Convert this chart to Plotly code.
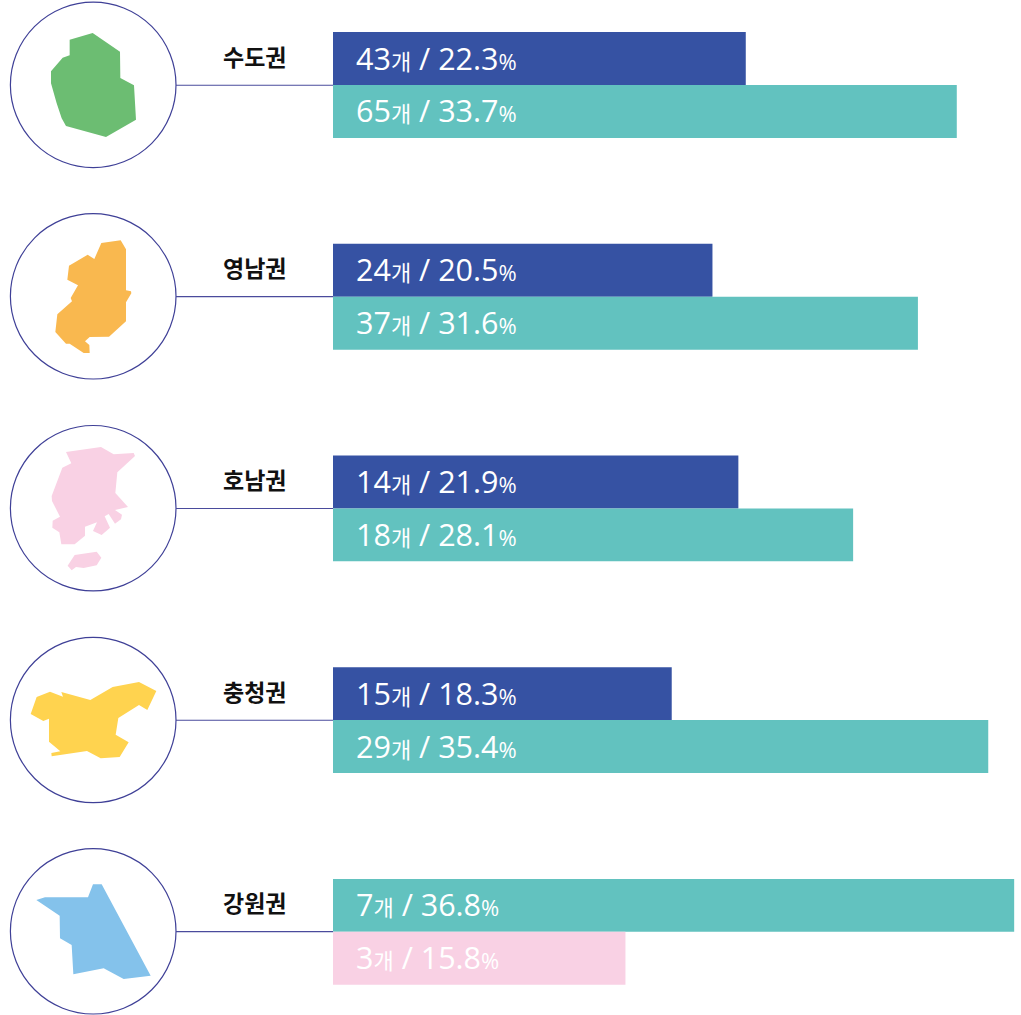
import plotly.graph_objects as go

W, H = 1021, 1015
X0_PX = 333.0      # pixel of the zero of the bar axis
PX_PER_PCT = 18.51
ROW_PX = 211.7
Y0_PX = 85.0

regions = ["수도권", "영남권", "호남권", "충청권", "강원권"]
upper_counts = [43, 24, 14, 15, 7]
upper_pcts = [22.3, 20.5, 21.9, 18.3, 36.8]
lower_counts = [65, 37, 18, 29, 3]
lower_pcts = [33.7, 31.6, 28.1, 35.4, 15.8]
upper_colors = ["#3652a3", "#3652a3", "#3652a3", "#3652a3", "#62c2bf"]
lower_colors = ["#62c2bf", "#62c2bf", "#62c2bf", "#62c2bf", "#f9d1e4"]
map_colors = ["#6cbd72", "#f9b84f", "#f9d1e4", "#ffd34f", "#84c2eb"]
circle_centers_y = [84.9, 296.3, 508.2, 720.0, 931.3]

maps = [
    (0, [[(209,119),(278,99),(360,155),(361,234),(402,256),(408,359),(318,411),(198,378),(185,355),(170,310),(153,250),(153,214),(188,173),(209,166)]]),
    (205, [[(304,114),(362,106),(378,133),(378,256),(393,259),(394,265),(378,292),(378,349),(327,395),(269,396),(255,409),(268,420),(269,444),(251,444),(209,416),(198,416),(166,381),(172,328),(216,289),(212,279),(234,241),(202,224),(207,182),(263,149),(283,162)]]),
    (415, [[(198,111),(303,96),(341,118),(401,114),(405,123),(352,172),(346,234),(384,276),(345,285),(366,299),(363,313),(345,326),(326,297),(314,304),(330,338),(305,360),(279,348),(291,322),(255,335),(255,362),(224,388),(184,388),(178,352),(157,338),(158,317),(180,305),(156,258),(155,243),(187,158),(214,145)],
           [(224,420),(290,410),(304,428),(290,451),(251,459),(228,456),(215,466),(203,452)]]),
    (625, [[(110,216),(150,200),(189,215),(184,201),(271,225),(338,186),(417,171),(469,198),(442,255),(417,240),(355,279),(347,329),(386,352),(359,396),(302,400),(261,378),(155,394),(154,384),(181,379),(147,350),(147,281),(130,288),(92,267)]]),
    (835, [[(109,195),(135,187),(264,187),(279,148),(305,148),(452,422),(371,432),(311,400),(220,418),(215,330),(180,310),(179,242)]]),
]

FONT = "'Open Sans', 'Noto Sans CJK KR', sans-serif"
rows = list(range(len(regions)))


def label(count, pct):
    return (f'{count}<span style="font-size:22px">개</span> / {pct}'
            f'<span style="font-size:22px">%</span>')


fig = go.Figure()
fig.add_bar(y=[r - 0.125 for r in rows], x=upper_pcts, orientation="h", width=0.25,
            marker=dict(color=upper_colors, line_width=0), hoverinfo="skip")
fig.add_bar(y=[r + 0.125 for r in rows], x=lower_pcts, orientation="h", width=0.25,
            marker=dict(color=lower_colors, line_width=0), hoverinfo="skip")

shapes, annotations = [], []
for r in rows:
    # circle
    cy = circle_centers_y[r]
    shapes.append(dict(type="circle", xref="paper", yref="paper",
                       x0=10.4 / W, x1=176 / W, y0=1 - (cy + 82.7) / H, y1=1 - (cy - 82.7) / H,
                       line=dict(color="#3f4097", width=1.2), fillcolor="white", layer="below"))
    # connector
    shapes.append(dict(type="line", xref="paper", yref="paper",
                       x0=176 / W, x1=X0_PX / W, y0=1 - (cy + 0.3) / H, y1=1 - (cy + 0.3) / H,
                       line=dict(color="#4a4b9c", width=1.1), layer="below"))
    # silhouette
    off, outlines = maps[r]
    path = ""
    for poly in outlines:
        pts = [(x / 3 / W, 1 - (off + y / 3) / H) for x, y in poly]
        path += "M" + " L".join(f"{a:.5f},{b:.5f}" for a, b in pts) + " Z "
    shapes.append(dict(type="path", xref="paper", yref="paper", path=path,
                       fillcolor=map_colors[r], line_width=0, layer="above"))
    # region name
    annotations.append(dict(text=f"<b>{regions[r]}</b>", xref="paper", yref="y",
                            x=254.5 / W, y=r - 0.125, xanchor="center", yanchor="middle",
                            yshift=2, showarrow=False, font=dict(family=FONT, size=23, color="#111111")))
    # bar labels
    for yy, c, p in ((r - 0.125, upper_counts[r], upper_pcts[r]),
                     (r + 0.125, lower_counts[r], lower_pcts[r])):
        annotations.append(dict(text=label(c, p), xref="x", yref="y", x=0, y=yy,
                                xshift=21, yshift=1, xanchor="left", yanchor="middle", showarrow=False,
                                font=dict(family=FONT, size=30.5, color="white")))

fig.update_layout(
    width=W, height=H, margin=dict(l=0, r=0, t=0, b=0), autosize=False,
    paper_bgcolor="white", plot_bgcolor="rgba(0,0,0,0)", showlegend=False, barmode="overlay",
    shapes=shapes, annotations=annotations,
    xaxis=dict(range=[-X0_PX / PX_PER_PCT, (W - X0_PX) / PX_PER_PCT], visible=False, fixedrange=True),
    yaxis=dict(range=[(H - Y0_PX) / ROW_PX, -Y0_PX / ROW_PX], visible=False, fixedrange=True),
)
fig.write_html("out.html", config=dict(displayModeBar=False),
               post_script="document.body.style.margin='0';document.body.style.overflow='hidden';")
